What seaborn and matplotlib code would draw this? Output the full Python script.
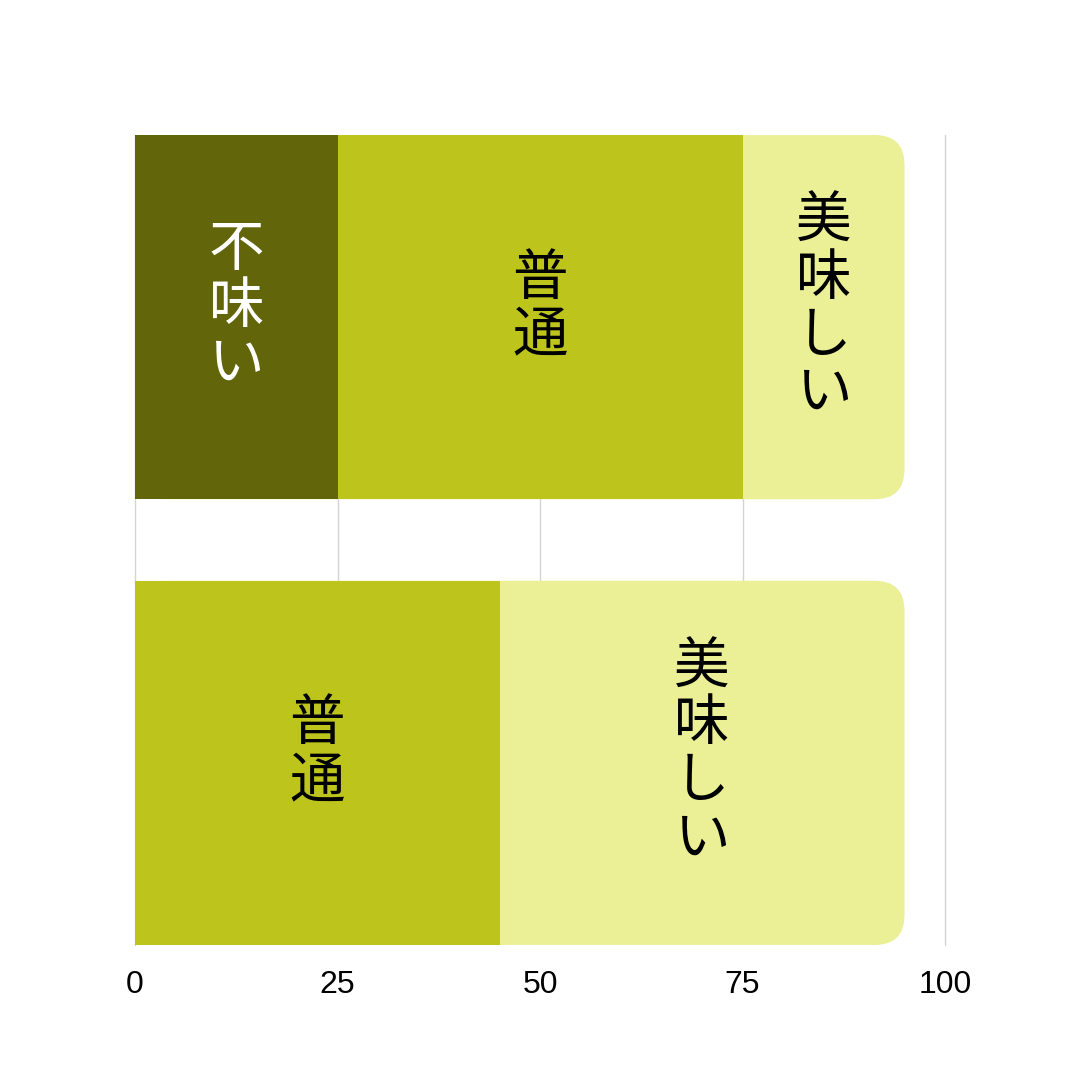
import matplotlib
matplotlib.use("Agg")
import matplotlib.pyplot as plt
from matplotlib.patches import FancyBboxPatch
from matplotlib.transforms import offset_copy
import seaborn as sns
import pandas as pd
import numpy as np

rows = ["上", "下"]
levels = ["不味い", "普通", "美味しい"]
colors = ["#63650B", "#BDC41C", "#EBEF96"]
text_colors = ["white", "black", "black"]
values_top = [25, 50, 20]
values_bottom = [0, 45, 50]
ticks = [0, 25, 50, 75, 100]

sns.set_theme(style="white")
plt.rcParams['font.family'] = ['Liberation Sans', 'DejaVu Sans']

vals = np.array([values_top, values_bottom], dtype=float)
cum = np.cumsum(vals, axis=1)

fig = plt.figure(figsize=(10.8, 10.8), dpi=100)
ax = fig.add_axes([0.125, 0.125, 0.75, 0.75])
bar_w = 0.817

patch_groups = []
for j in reversed(range(len(levels))):
    df = pd.DataFrame({"row": rows, "value": cum[:, j]})
    before = len(ax.patches)
    sns.barplot(data=df, x="value", y="row", orient="h", color=colors[j],
                width=bar_w, saturation=1, ax=ax, zorder=2 + (len(levels) - j),
                edgecolor="none", linewidth=0)
    patch_groups.append((j, ax.patches[before:]))

ax.set_xlim(0, 100)
ax.set_ylim(1 + bar_w / 2, -bar_w / 2)

# round the right end of the outermost (total) bars
fig.canvas.draw()
p0 = ax.transData.transform((0, 0))
p1 = ax.transData.transform((1, 1))
px_x = abs(p1[0] - p0[0])
px_y = abs(p1[1] - p0[1])
radius_px = 30
j_last, last_patches = patch_groups[0]
for p in list(last_patches):
    x, y = p.get_x(), p.get_y()
    w, h = p.get_width(), p.get_height()
    z = p.get_zorder()
    p.remove()
    fb = FancyBboxPatch((x, y), w, h,
                        boxstyle=f"round,pad=0,rounding_size={radius_px / px_x}",
                        mutation_aspect=px_x / px_y,
                        facecolor=colors[j_last], edgecolor="none", linewidth=0,
                        zorder=z)
    ax.add_patch(fb)

# labels
text_tr = offset_copy(ax.transData, fig=fig, x=0, y=7, units="points")
for i in range(len(rows)):
    for j, lev in enumerate(levels):
        if vals[i, j] <= 0:
            continue
        xc = cum[i, j] - vals[i, j] / 2
        ax.text(xc, i, "\n".join(lev), ha="center", va="center",
                fontsize=40, color=text_colors[j], linespacing=0.99,
                family=['Noto Sans CJK JP', 'DejaVu Sans'], zorder=10,
                transform=text_tr)

ax.set_xticks(ticks)
ax.set_xticklabels([str(t) for t in ticks], fontsize=23, color="black")
ax.tick_params(axis="x", length=0, pad=18, colors="black")
ax.set_yticks([])
ax.set_xlabel("")
ax.set_ylabel("")
ax.grid(axis="x", color="#d4d4d4", linewidth=1, zorder=0)
gls = ax.get_xgridlines()
gls[-1].set_clip_on(False)
gls[0].set_clip_on(False)
ax.set_axisbelow(True)
for s in ax.spines.values():
    s.set_visible(False)

fig.savefig("out.png", dpi=100, facecolor="white")
